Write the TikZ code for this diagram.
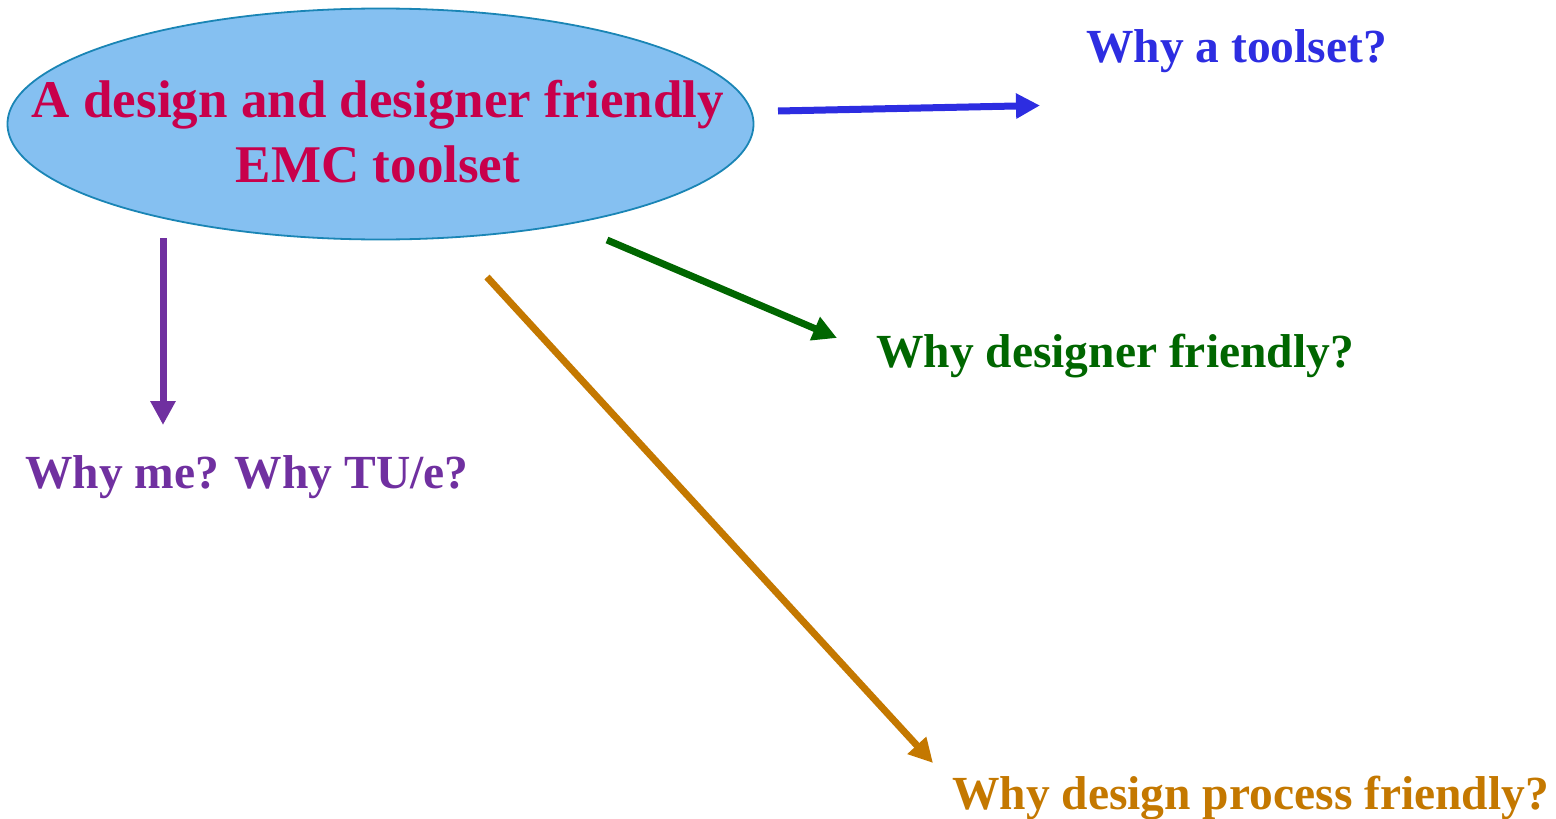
\documentclass[tikz,border=0pt]{standalone}
\usepackage{fontspec}
\setmainfont{Liberation Serif}
\usetikzlibrary{shapes.geometric,arrows.meta}
\definecolor{crim}{RGB}{200,0,75}
\definecolor{ublue}{RGB}{45,45,225}
\definecolor{ugreen}{RGB}{0,102,0}
\definecolor{upurple}{RGB}{112,48,160}
\definecolor{uorange}{RGB}{196,120,0}
\definecolor{efill}{RGB}{133,192,241}
\definecolor{eline}{RGB}{26,133,181}
\begin{document}
\begin{tikzpicture}[x=1pt,y=-1pt,
  lbl/.style={inner sep=0pt,anchor=base west,font=\bfseries\fontsize{47.5}{57}\selectfont},
  etext/.style={inner sep=0pt,anchor=base,text=crim,font=\bfseries\fontsize{53}{65}\selectfont},
  conn/.style={line width=7pt,-{Triangle[length=24pt,width=24pt]}}]
\useasboundingbox (0,0) rectangle (1556,819);
\node[ellipse,draw=eline,line width=1.8pt,fill=efill,minimum width=746pt,minimum height=231pt,inner sep=0pt] (e) at (380.5,124) {};
\node[etext] (t1) at (378,117) {A design and designer friendly};
\node[etext] (t2) at (378,182) {EMC toolset};
\node[lbl,text=ublue] (q1) at (1086,62) {Why a toolset?};
\node[lbl,text=ugreen] (q2) at (876,367) {Why designer friendly?};
\node[lbl,text=upurple] (q3) at (25,488) {Why me? Why TU/e?};
\node[lbl,text=uorange] (q4) at (952,809) {Why design process friendly?};
\coordinate (s1) at (778,111);
\coordinate (f1) at (1040,105.5);
\coordinate (s2) at (607,240);
\coordinate (f2) at (837,338);
\coordinate (s3) at (163,238);
\coordinate (f3) at (163,425);
\coordinate (s4) at (487,277);
\coordinate (f4) at (933,763);
\draw[conn,ublue] (s1) -- (f1);
\draw[conn,ugreen] (s2) -- (f2);
\draw[conn,upurple] (s3) -- (f3);
\draw[conn,uorange] (s4) -- (f4);
\end{tikzpicture}
\end{document}
